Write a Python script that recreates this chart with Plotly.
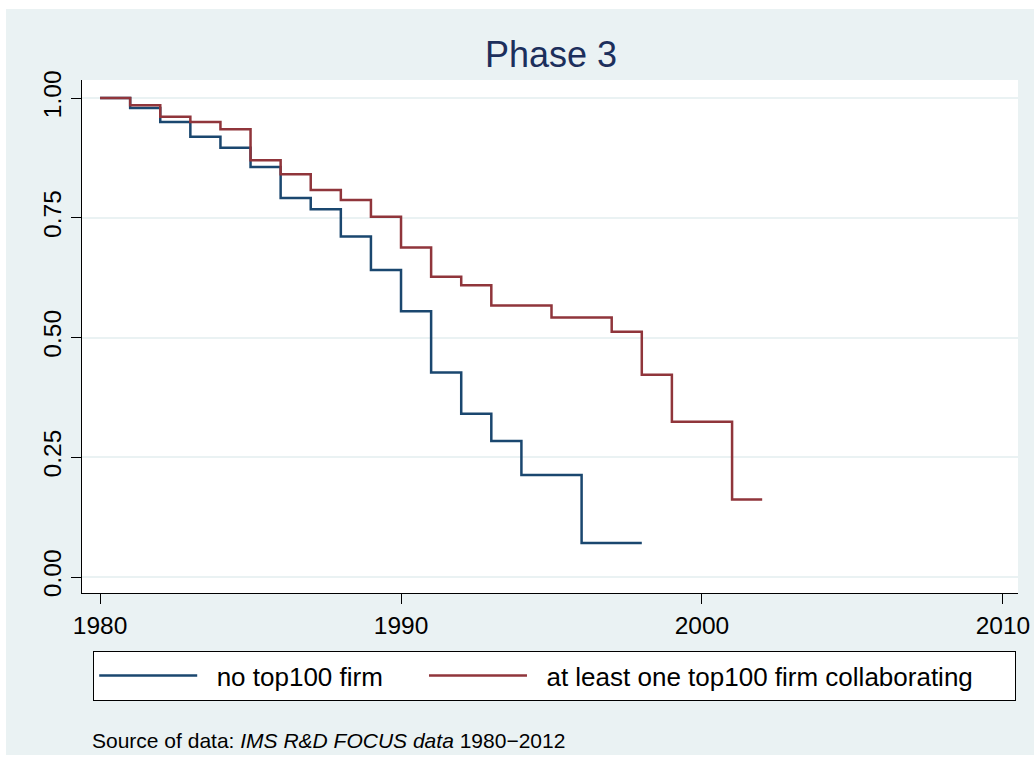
import plotly.graph_objects as go

# Data (Kaplan-Meier style step survival estimates)
years_none = [1980, 1981, 1982, 1983, 1984, 1985, 1986, 1987, 1988, 1989,
              1990, 1991, 1992, 1993, 1994, 1996, 1998]
surv_none = [1.000, 0.979, 0.950, 0.919, 0.896, 0.856, 0.791, 0.768, 0.711, 0.641,
             0.555, 0.427, 0.341, 0.284, 0.213, 0.071, 0.071]

years_top = [1980, 1981, 1982, 1983, 1984, 1985, 1986, 1987, 1988, 1989,
             1990, 1991, 1992, 1993, 1994, 1995, 1996, 1997, 1998, 1999,
             2000, 2001, 2002]
surv_top = [1.000, 0.985, 0.961, 0.950, 0.935, 0.870, 0.841, 0.808, 0.787, 0.752,
            0.688, 0.627, 0.609, 0.567, 0.567, 0.542, 0.542, 0.512, 0.422, 0.324,
            0.324, 0.162, 0.162]

series_names = ["no top100 firm", "at least one top100 firm collaborating"]
x_ticks = [1980, 1990, 2000, 2010]
y_ticks = [0.0, 0.25, 0.5, 0.75, 1.0]
y_ticklabels = ["0.00", "0.25", "0.50", "0.75", "1.00"]

BG = "#EAF2F3"
FONT = "Liberation Sans, Arial, Helvetica, sans-serif"
NB = "\u00a0"

W, H = 1034, 759
ML, MR, MT, MB = 82, 16, 80, 166
PW, PH = W - ML - MR, H - MT - MB


def px_x(px):
    return (px - ML) / PW


def px_y(py):
    return (H - MB - py) / PH


fig = go.Figure()
fig.add_trace(go.Scatter(x=years_none, y=surv_none, mode="lines", line_shape="hv",
                         line=dict(color="#1a476f", width=2.5),
                         name=NB * 2 + series_names[0] + NB * 5))
fig.add_trace(go.Scatter(x=years_top, y=surv_top, mode="lines", line_shape="hv",
                         line=dict(color="#90353b", width=2.5),
                         name=NB * 2 + series_names[1] + NB * 5))

fig.update_layout(
    width=W, height=H,
    margin=dict(l=ML, r=MR, t=MT, b=MB, pad=0, autoexpand=False),
    paper_bgcolor=BG,
    plot_bgcolor="white",
    font=dict(family=FONT, color="black", size=22),
    title=dict(text="Phase 3", x=px_x(551), xref="paper", xanchor="center",
               y=1 - 54 / H, yref="container", yanchor="middle",
               font=dict(size=36, color="#1c2f5c", family=FONT)),
    showlegend=True,
    legend=dict(orientation="h", x=px_x(93), y=px_y(651), xanchor="left", yanchor="top",
                bordercolor="black", borderwidth=1.2, bgcolor="white",
                font=dict(size=26, family=FONT, color="black"),
                itemwidth=98, tracegroupgap=0),
)

fig.update_xaxes(range=[1979.40, 2010.50], tickvals=x_ticks, ticktext=[str(t) for t in x_ticks],
                 showgrid=False, zeroline=False, showline=True, linecolor="black", linewidth=1.3,
                 ticks="outside", ticklen=10, tickwidth=1.3, tickcolor="black",
                 tickfont=dict(size=24.5, family=FONT, color="black"), fixedrange=True)
fig.update_yaxes(range=[-0.0334, 1.0376], tickvals=y_ticks, ticktext=y_ticklabels,
                 showgrid=True, gridcolor=BG, gridwidth=1.5, zeroline=False,
                 showline=True, linecolor="black", linewidth=1.3,
                 ticks="outside", ticklen=10, tickwidth=1.3, tickcolor="black",
                 tickangle=-90, tickfont=dict(size=24.5, family=FONT, color="black"),
                 fixedrange=True)

fig.add_annotation(xref="paper", yref="paper", x=px_x(90), y=px_y(740),
                   xanchor="left", yanchor="middle", showarrow=False,
                   text="Source of data: <i>IMS R&amp;D FOCUS data</i> 1980\u22122012",
                   font=dict(size=21, family=FONT, color="black"))

# thin white outer strips (left, top, bottom) as in the reference
for (x0, x1, y0, y1) in [(0, 6, 0, H), (0, W, 0, 9), (0, W, 755, H)]:
    fig.add_shape(type="rect", xref="paper", yref="paper",
                  x0=px_x(x0), x1=px_x(x1), y0=px_y(y1), y1=px_y(y0),
                  fillcolor="white", line=dict(width=0), layer="above")

fig.write_html("out.html")
